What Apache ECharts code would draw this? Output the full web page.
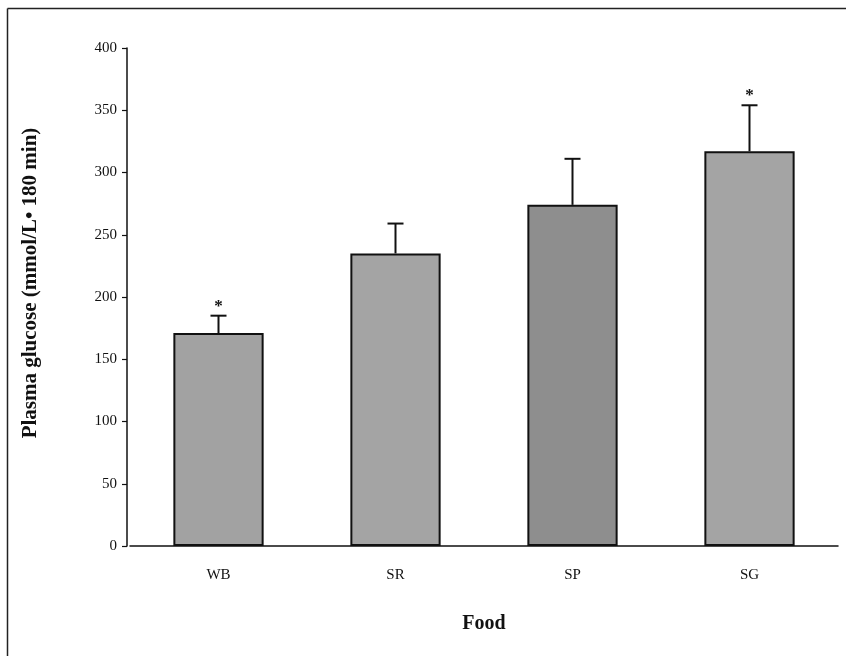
<!DOCTYPE html>
<html>
<head>
<meta charset="utf-8">
<script src="https://cdn.jsdelivr.net/npm/echarts@6/dist/echarts.min.js"></script>
<style>html,body{margin:0;padding:0;background:#fff}#c{width:846px;height:656px}</style>
</head>
<body>
<div id="c"></div>
<script>
var categories = ['WB', 'SR', 'SP', 'SG'];
var glucose = [171, 235, 274, 317];
var errorUp = [14, 24, 37, 37];
var significant = ['*', '', '', '*'];
var yTicks = [0, 50, 100, 150, 200, 250, 300, 350, 400];

var chart = echarts.init(document.getElementById('c'));
var serif = '"Liberation Serif", "DejaVu Serif", serif';
var barColors = ['#a2a2a2', '#a4a4a4', '#8e8e8e', '#a4a4a4'];

chart.setOption({
  animation: false,
  backgroundColor: '#fff',
  graphic: [
    { type: 'line', shape: { x1: 7.5, y1: 8.5, x2: 846, y2: 8.5 }, style: { stroke: '#222', lineWidth: 1.5 } },
    { type: 'line', shape: { x1: 7.5, y1: 8.5, x2: 7.5, y2: 656 }, style: { stroke: '#222', lineWidth: 1.5 } },
    { type: 'text', x: 31, y: 283, rotation: Math.PI / 2,
      style: { text: 'Plasma glucose (mmol/L\u2022 180 min)', align: 'center', verticalAlign: 'middle',
        font: 'bold 21px ' + serif, fill: '#111' } }
  ],
  grid: { left: 130, right: 8, top: 48, bottom: 110 },
  xAxis: {
    type: 'category',
    data: categories,
    name: 'Food',
    nameLocation: 'middle',
    nameGap: 68,
    nameTextStyle: { fontFamily: serif, fontWeight: 'bold', fontSize: 20, color: '#111' },
    axisLine: { lineStyle: { color: '#111', width: 1.5 } },
    axisTick: { show: false },
    axisLabel: { fontFamily: serif, fontSize: 15, color: '#111', margin: 22 }
  },
  yAxis: {
    type: 'value',
    min: 0, max: 400, interval: 50,
    offset: 3,
    axisLine: { show: true, lineStyle: { color: '#111', width: 1.5 } },
    axisTick: { show: true, inside: false, length: 5, lineStyle: { color: '#111', width: 1.2 } },
    axisLabel: { fontFamily: serif, fontSize: 15, color: '#111', margin: 10,
      formatter: function (v) { return yTicks.indexOf(v) >= 0 ? String(v) : ''; } },
    splitLine: { show: false }
  },
  series: [
    {
      type: 'bar',
      data: glucose.map(function (v, i) { return { value: v, itemStyle: { color: barColors[i] } }; }),
      barWidth: '51%',
      itemStyle: { borderColor: '#111', borderWidth: 2 },
      z: 2
    },
    {
      type: 'custom',
      z: 3,
      data: glucose.map(function (v, i) { return [i, v, v + errorUp[i]]; }),
      renderItem: function (params, api) {
        var x = api.value(0);
        var top = api.coord([x, api.value(2)]);
        var base = api.coord([x, api.value(1)]);
        var hw = 8;
        var children = [
          { type: 'line', shape: { x1: top[0], y1: base[1], x2: top[0], y2: top[1] }, style: { stroke: '#111', lineWidth: 2 } },
          { type: 'line', shape: { x1: top[0] - hw, y1: top[1], x2: top[0] + hw, y2: top[1] }, style: { stroke: '#111', lineWidth: 2 } }
        ];
        var s = significant[params.dataIndex];
        if (s) {
          children.push({ type: 'text', style: { text: s, x: top[0], y: top[1] - 1, align: 'center', verticalAlign: 'bottom',
            font: 'bold 17px ' + serif, fill: '#111' } });
        }
        return { type: 'group', children: children };
      }
    }
  ]
});
</script>
</body>
</html>
